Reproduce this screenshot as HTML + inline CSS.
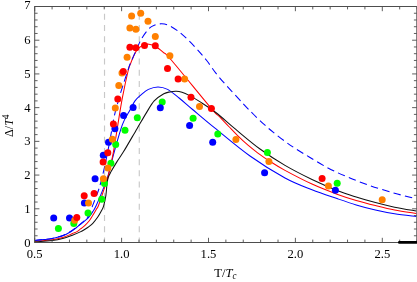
<!DOCTYPE html>
<html><head><meta charset="utf-8"><title>plot</title>
<style>html,body{margin:0;padding:0;background:#fff;width:417px;height:282px;overflow:hidden;font-family:"Liberation Serif",serif}</style></head>
<body>
<svg width="417" height="282" viewBox="0 0 417 282" style="position:absolute;left:0;top:0;will-change:transform">
<rect width="417" height="282" fill="#fff"/>
<defs><clipPath id="c"><rect x="34.70" y="6.50" width="383.10" height="236.00"/></clipPath></defs>
<line x1="104.52" y1="6.50" x2="104.52" y2="242.50" stroke="#c8c8c8" stroke-width="1.15" stroke-dasharray="6 5.18" stroke-dashoffset="3.88"/>
<line x1="139.28" y1="6.50" x2="139.28" y2="242.50" stroke="#c8c8c8" stroke-width="1.15" stroke-dasharray="6 5.18" stroke-dashoffset="3.88"/>
<g clip-path="url(#c)" fill="none" stroke-width="1.05" stroke-linejoin="round">
<path d="M34.70,240.50 C36.25,240.35 41.08,239.93 44.00,239.60 C46.92,239.27 49.07,239.13 52.20,238.50 C55.33,237.87 59.60,237.00 62.80,235.80 C66.00,234.60 69.12,232.68 71.40,231.30 C73.68,229.92 74.93,228.70 76.50,227.50 C78.07,226.30 79.38,225.25 80.80,224.10 C82.22,222.95 83.58,221.85 85.00,220.60 C86.42,219.35 88.00,218.10 89.30,216.60 C90.60,215.10 91.67,213.40 92.80,211.60 C93.93,209.80 94.28,209.80 96.10,205.80 C97.92,201.80 101.72,192.57 103.70,187.60 C105.68,182.63 106.22,182.03 108.00,176.00 C109.78,169.97 112.00,159.97 114.40,151.40 C116.80,142.83 119.80,131.50 122.40,124.60 C125.00,117.70 127.90,113.95 130.00,110.00 C132.10,106.05 133.20,103.38 135.00,100.90 C136.80,98.42 138.57,97.02 140.80,95.10 C143.03,93.18 145.53,90.77 148.40,89.40 C151.27,88.03 154.80,86.90 158.00,86.90 C161.20,86.90 164.08,87.55 167.60,89.40 C171.12,91.25 174.93,94.65 179.10,98.00 C183.27,101.35 186.62,104.47 192.60,109.50 C198.58,114.53 205.43,120.45 215.00,128.20 C224.57,135.95 238.33,147.70 250.00,156.00 C261.67,164.30 274.67,172.37 285.00,178.00 C295.33,183.63 303.33,186.37 312.00,189.80 C320.67,193.23 329.63,196.08 337.00,198.60 C344.37,201.12 349.80,203.00 356.20,204.90 C362.60,206.80 369.00,208.52 375.40,210.00 C381.80,211.48 387.78,212.72 394.60,213.80 C401.42,214.88 412.68,216.05 416.30,216.50" stroke="#0000ff"/>
<path d="M34.70,241.40 C37.62,241.13 47.52,240.45 52.20,239.80 C56.88,239.15 59.43,238.53 62.80,237.50 C66.17,236.47 70.12,234.53 72.40,233.60 C74.68,232.67 75.10,232.72 76.50,231.90 C77.90,231.08 79.38,229.80 80.80,228.70 C82.22,227.60 83.58,226.62 85.00,225.30 C86.42,223.98 88.00,222.47 89.30,220.80 C90.60,219.13 91.58,217.30 92.80,215.30 C94.02,213.30 95.65,210.43 96.60,208.80 C97.55,207.17 97.17,209.03 98.50,205.50 C99.83,201.97 103.02,192.35 104.60,187.60 C106.18,182.85 106.52,183.00 108.00,177.00 C109.48,171.00 111.85,160.37 113.50,151.60 C115.15,142.83 116.42,133.38 117.90,124.40 C119.38,115.42 120.68,106.68 122.40,97.70 C124.12,88.72 126.82,76.25 128.20,70.50 C129.58,64.75 129.80,65.58 130.70,63.20 C131.60,60.82 132.63,58.30 133.60,56.20 C134.57,54.10 135.38,52.17 136.50,50.60 C137.62,49.03 138.97,47.77 140.30,46.80 C141.63,45.83 143.07,45.23 144.50,44.80 C145.93,44.37 147.05,43.92 148.90,44.20 C150.75,44.48 153.20,45.15 155.60,46.50 C158.00,47.85 160.68,50.05 163.30,52.30 C165.92,54.55 163.28,50.62 171.30,60.00 C179.32,69.38 203.42,99.20 211.40,108.60 C219.38,118.00 216.30,113.42 219.20,116.40 C222.10,119.38 225.60,123.17 228.80,126.50 C232.00,129.83 235.20,133.28 238.40,136.40 C241.60,139.52 244.80,142.47 248.00,145.20 C251.20,147.93 253.93,150.10 257.60,152.80 C261.27,155.50 265.43,158.47 270.00,161.40 C274.57,164.33 278.00,166.62 285.00,170.40 C292.00,174.18 303.33,180.13 312.00,184.10 C320.67,188.07 329.63,191.47 337.00,194.20 C344.37,196.93 349.80,198.60 356.20,200.50 C362.60,202.40 369.00,204.02 375.40,205.60 C381.80,207.18 387.78,208.70 394.60,210.00 C401.42,211.30 412.68,212.83 416.30,213.40" stroke="#ff0000"/>
<path d="M34.70,241.90 C37.62,241.68 47.52,241.15 52.20,240.60 C56.88,240.05 59.43,239.50 62.80,238.60 C66.17,237.70 69.48,236.32 72.40,235.20 C75.32,234.08 78.20,232.90 80.30,231.90 C82.40,230.90 83.50,230.13 85.00,229.20 C86.50,228.27 88.00,227.28 89.30,226.30 C90.60,225.32 91.42,224.80 92.80,223.30 C94.18,221.80 96.17,219.38 97.60,217.30 C99.03,215.22 100.42,212.62 101.40,210.80 C102.38,208.98 102.75,208.98 103.50,206.40 C104.25,203.82 105.32,199.07 105.90,195.30 C106.48,191.53 106.62,186.77 107.00,183.80 C107.38,180.83 107.57,179.45 108.20,177.50 C108.83,175.55 109.33,174.75 110.80,172.10 C112.27,169.45 114.87,165.02 117.00,161.60 C119.13,158.18 120.28,157.05 123.60,151.60 C126.92,146.15 133.08,135.40 136.90,128.90 C140.72,122.40 143.62,117.27 146.50,112.60 C149.38,107.93 151.32,104.03 154.20,100.90 C157.08,97.77 161.17,95.30 163.80,93.80 C166.43,92.30 167.93,92.32 170.00,91.90 C172.07,91.48 174.20,91.23 176.20,91.30 C178.20,91.37 179.92,91.67 182.00,92.30 C184.08,92.93 185.67,93.50 188.70,95.10 C191.73,96.70 195.57,98.92 200.20,101.90 C204.83,104.88 210.62,108.45 216.50,113.00 C222.38,117.55 228.25,123.20 235.50,129.20 C242.75,135.20 251.75,142.97 260.00,149.00 C268.25,155.03 276.33,160.32 285.00,165.40 C293.67,170.48 303.33,175.33 312.00,179.50 C320.67,183.67 329.63,187.48 337.00,190.40 C344.37,193.32 349.80,194.97 356.20,197.00 C362.60,199.03 369.00,200.90 375.40,202.60 C381.80,204.30 387.78,205.80 394.60,207.20 C401.42,208.60 412.68,210.37 416.30,211.00" stroke="#111"/>
<path d="M34.70,240.40 C36.25,240.25 41.08,239.83 44.00,239.50 C46.92,239.17 49.07,239.05 52.20,238.40 C55.33,237.75 59.60,236.83 62.80,235.60 C66.00,234.37 69.12,232.42 71.40,231.00 C73.68,229.58 74.93,228.33 76.50,227.10 C78.07,225.87 79.38,224.82 80.80,223.60 C82.22,222.38 83.58,221.30 85.00,219.80 C86.42,218.30 87.95,217.17 89.30,214.60 C90.65,212.03 91.58,208.42 93.10,204.40 C94.62,200.38 97.12,194.18 98.40,190.50 C99.68,186.82 99.93,185.52 100.80,182.30 C101.67,179.08 102.65,175.28 103.60,171.20 C104.55,167.12 105.43,163.00 106.50,157.80 C107.57,152.60 108.73,146.77 110.00,140.00 C111.27,133.23 112.85,123.23 114.10,117.20 C115.35,111.17 116.50,107.58 117.50,103.80 C118.50,100.02 119.03,98.05 120.10,94.50 C121.17,90.95 122.63,86.42 123.90,82.50 C125.17,78.58 126.68,74.03 127.70,71.00 C128.72,67.97 128.65,67.60 130.00,64.30 C131.35,61.00 133.88,55.45 135.80,51.20 C137.72,46.95 139.27,42.60 141.50,38.80 C143.73,35.00 146.95,30.70 149.20,28.40 C151.45,26.10 152.92,25.77 155.00,25.00 C157.08,24.23 159.47,23.77 161.70,23.80 C163.93,23.83 165.68,24.00 168.40,25.20 C171.12,26.40 174.80,28.62 178.00,31.00 C181.20,33.38 184.42,36.45 187.60,39.50 C190.78,42.55 193.92,45.80 197.10,49.30 C200.28,52.80 203.02,55.83 206.70,60.50 C210.38,65.17 213.12,70.10 219.20,77.30 C225.28,84.50 237.37,97.42 243.20,103.70 C249.03,109.98 250.57,111.42 254.20,115.00 C257.83,118.58 261.80,122.30 265.00,125.20 C268.20,128.10 270.07,129.70 273.40,132.40 C276.73,135.10 281.48,138.82 285.00,141.40 C288.52,143.98 290.47,145.30 294.50,147.90 C298.53,150.50 303.55,153.62 309.20,157.00 C314.85,160.38 322.00,164.87 328.40,168.20 C334.80,171.53 340.67,174.10 347.60,177.00 C354.53,179.90 362.17,182.90 370.00,185.60 C377.83,188.30 386.88,190.98 394.60,193.20 C402.32,195.42 412.68,197.95 416.30,198.90" stroke="#0000ff" stroke-dasharray="7.5 4.3"/>
</g>
<g fill="#00ff00"><circle cx="58.4" cy="228.5" r="3.5"/><circle cx="73.8" cy="223.5" r="3.5"/><circle cx="88.0" cy="213.0" r="3.5"/><circle cx="101.7" cy="199.3" r="3.5"/><circle cx="104.5" cy="183.4" r="3.5"/><circle cx="110.9" cy="163.2" r="3.5"/><circle cx="115.7" cy="144.5" r="3.5"/><circle cx="125.0" cy="130.2" r="3.5"/><circle cx="137.3" cy="117.7" r="3.5"/><circle cx="162.2" cy="102.1" r="3.5"/><circle cx="193.1" cy="118.3" r="3.5"/><circle cx="217.8" cy="133.9" r="3.5"/><circle cx="267.4" cy="152.5" r="3.5"/><circle cx="337.2" cy="183.3" r="3.5"/></g>
<g fill="#0000ff"><circle cx="53.7" cy="218.1" r="3.5"/><circle cx="69.5" cy="218.0" r="3.5"/><circle cx="84.4" cy="203.0" r="3.5"/><circle cx="95.1" cy="178.8" r="3.5"/><circle cx="103.3" cy="155.2" r="3.5"/><circle cx="108.5" cy="142.3" r="3.5"/><circle cx="114.9" cy="128.7" r="3.5"/><circle cx="123.6" cy="115.6" r="3.5"/><circle cx="133.1" cy="107.5" r="3.5"/><circle cx="160.3" cy="107.8" r="3.5"/><circle cx="189.6" cy="125.6" r="3.5"/><circle cx="212.7" cy="142.2" r="3.5"/><circle cx="264.6" cy="172.7" r="3.5"/><circle cx="335.4" cy="190.2" r="3.5"/></g>
<g fill="#ff8000"><circle cx="74.7" cy="220.3" r="3.5"/><circle cx="88.5" cy="203.0" r="3.5"/><circle cx="103.4" cy="178.7" r="3.5"/><circle cx="107.9" cy="168.1" r="3.5"/><circle cx="112.4" cy="139.3" r="3.5"/><circle cx="115.3" cy="108.0" r="3.5"/><circle cx="118.8" cy="85.4" r="3.5"/><circle cx="122.0" cy="73.0" r="3.5"/><circle cx="127.1" cy="57.2" r="3.5"/><circle cx="129.9" cy="28.0" r="3.5"/><circle cx="135.9" cy="29.2" r="3.5"/><circle cx="131.6" cy="15.9" r="3.5"/><circle cx="140.7" cy="13.3" r="3.5"/><circle cx="148.0" cy="21.2" r="3.5"/><circle cx="155.3" cy="36.5" r="3.5"/><circle cx="169.9" cy="55.7" r="3.5"/><circle cx="184.6" cy="79.0" r="3.5"/><circle cx="199.5" cy="106.6" r="3.5"/><circle cx="235.9" cy="139.5" r="3.5"/><circle cx="268.9" cy="161.4" r="3.5"/><circle cx="328.4" cy="185.9" r="3.5"/><circle cx="382.2" cy="199.8" r="3.5"/></g>
<g fill="#ff0000"><circle cx="76.8" cy="217.5" r="3.5"/><circle cx="84.2" cy="195.7" r="3.5"/><circle cx="94.1" cy="193.5" r="3.5"/><circle cx="103.1" cy="162.0" r="3.5"/><circle cx="107.8" cy="152.8" r="3.5"/><circle cx="113.4" cy="124.0" r="3.5"/><circle cx="117.8" cy="99.0" r="3.5"/><circle cx="123.3" cy="71.5" r="3.5"/><circle cx="129.9" cy="47.3" r="3.5"/><circle cx="135.9" cy="47.8" r="3.5"/><circle cx="144.5" cy="45.6" r="3.5"/><circle cx="155.3" cy="45.8" r="3.5"/><circle cx="167.5" cy="68.6" r="3.5"/><circle cx="178.1" cy="78.9" r="3.5"/><circle cx="191.0" cy="97.3" r="3.5"/><circle cx="211.4" cy="108.6" r="3.5"/><circle cx="322.1" cy="178.4" r="3.5"/></g>
<g stroke="#4d4d4d" stroke-width="1" fill="none">
<rect x="34.70" y="6.50" width="382.10" height="236.00"/>
<path d="M34.70,242.50v-4.70M34.70,6.50v4.70M52.08,242.50v-2.90M52.08,6.50v2.90M69.46,242.50v-2.90M69.46,6.50v2.90M86.84,242.50v-2.90M86.84,6.50v2.90M104.22,242.50v-2.90M104.22,6.50v2.90M121.60,242.50v-4.70M121.60,6.50v4.70M138.98,242.50v-2.90M138.98,6.50v2.90M156.36,242.50v-2.90M156.36,6.50v2.90M173.74,242.50v-2.90M173.74,6.50v2.90M191.12,242.50v-2.90M191.12,6.50v2.90M208.50,242.50v-4.70M208.50,6.50v4.70M225.88,242.50v-2.90M225.88,6.50v2.90M243.26,242.50v-2.90M243.26,6.50v2.90M260.64,242.50v-2.90M260.64,6.50v2.90M278.02,242.50v-2.90M278.02,6.50v2.90M295.40,242.50v-4.70M295.40,6.50v4.70M312.78,242.50v-2.90M312.78,6.50v2.90M330.16,242.50v-2.90M330.16,6.50v2.90M347.54,242.50v-2.90M347.54,6.50v2.90M364.92,242.50v-2.90M364.92,6.50v2.90M382.30,242.50v-4.70M382.30,6.50v4.70M399.68,242.50v-2.90M399.68,6.50v2.90M417.06,242.50v-2.90M417.06,6.50v2.90M34.70,242.50h4.70M416.80,242.50h-4.70M34.70,235.76h2.90M416.80,235.76h-2.90M34.70,229.01h2.90M416.80,229.01h-2.90M34.70,222.27h2.90M416.80,222.27h-2.90M34.70,215.53h2.90M416.80,215.53h-2.90M34.70,208.79h4.70M416.80,208.79h-4.70M34.70,202.04h2.90M416.80,202.04h-2.90M34.70,195.30h2.90M416.80,195.30h-2.90M34.70,188.56h2.90M416.80,188.56h-2.90M34.70,181.81h2.90M416.80,181.81h-2.90M34.70,175.07h4.70M416.80,175.07h-4.70M34.70,168.33h2.90M416.80,168.33h-2.90M34.70,161.59h2.90M416.80,161.59h-2.90M34.70,154.84h2.90M416.80,154.84h-2.90M34.70,148.10h2.90M416.80,148.10h-2.90M34.70,141.36h4.70M416.80,141.36h-4.70M34.70,134.61h2.90M416.80,134.61h-2.90M34.70,127.87h2.90M416.80,127.87h-2.90M34.70,121.13h2.90M416.80,121.13h-2.90M34.70,114.39h2.90M416.80,114.39h-2.90M34.70,107.64h4.70M416.80,107.64h-4.70M34.70,100.90h2.90M416.80,100.90h-2.90M34.70,94.16h2.90M416.80,94.16h-2.90M34.70,87.41h2.90M416.80,87.41h-2.90M34.70,80.67h2.90M416.80,80.67h-2.90M34.70,73.93h4.70M416.80,73.93h-4.70M34.70,67.19h2.90M416.80,67.19h-2.90M34.70,60.44h2.90M416.80,60.44h-2.90M34.70,53.70h2.90M416.80,53.70h-2.90M34.70,46.96h2.90M416.80,46.96h-2.90M34.70,40.21h4.70M416.80,40.21h-4.70M34.70,33.47h2.90M416.80,33.47h-2.90M34.70,26.73h2.90M416.80,26.73h-2.90M34.70,19.99h2.90M416.80,19.99h-2.90M34.70,13.24h2.90M416.80,13.24h-2.90M34.70,6.50h4.70M416.80,6.50h-4.70" stroke-width="0.9"/>
</g>
<rect x="398.0" y="241.1" width="22" height="2.7" rx="1.2" fill="#000"/>
<g font-family="'Liberation Serif', serif" font-size="13.3px" fill="#000">
<text transform="translate(34.70,258.0) scale(0.950,1)" text-anchor="middle">0.5</text>
<text transform="translate(121.60,258.0) scale(0.950,1)" text-anchor="middle">1.0</text>
<text transform="translate(208.50,258.0) scale(0.950,1)" text-anchor="middle">1.5</text>
<text transform="translate(295.40,258.0) scale(0.950,1)" text-anchor="middle">2.0</text>
<text transform="translate(382.30,258.0) scale(0.950,1)" text-anchor="middle">2.5</text>
<text transform="translate(30.6,246.80) scale(0.950,1)" text-anchor="end">0</text>
<text transform="translate(30.6,212.89) scale(0.950,1)" text-anchor="end">1</text>
<text transform="translate(30.6,179.17) scale(0.950,1)" text-anchor="end">2</text>
<text transform="translate(30.6,145.46) scale(0.950,1)" text-anchor="end">3</text>
<text transform="translate(30.6,111.74) scale(0.950,1)" text-anchor="end">4</text>
<text transform="translate(30.6,78.03) scale(0.950,1)" text-anchor="end">5</text>
<text transform="translate(30.6,44.31) scale(0.950,1)" text-anchor="end">6</text>
<text transform="translate(30.6,9.30) scale(0.950,1)" text-anchor="end">7</text>
<text transform="translate(214.3,277.2) scale(0.950,1)">T/<tspan font-style="italic">T</tspan><tspan font-style="italic" font-size="9.5px" dy="1.3">c</tspan></text>
<text transform="translate(13.4,137.0) rotate(-90) scale(0.912,1)">Δ/<tspan font-style="italic">T</tspan><tspan font-size="9.5px" dy="-4.3">4</tspan></text>
</g>
</svg>
</body></html>
